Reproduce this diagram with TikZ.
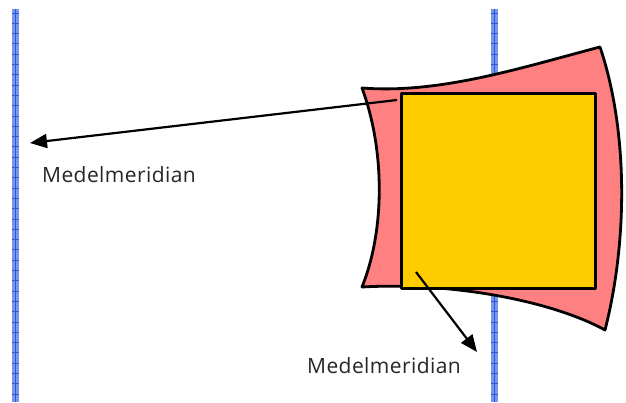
\documentclass[tikz,border=0pt]{standalone}
\usepackage{fontspec}
\setmainfont{Open Sans}
\usetikzlibrary{arrows.meta}
\definecolor{pinkfill}{HTML}{FF8080}
\definecolor{yellowfill}{HTML}{FFCC00}
\definecolor{meridfill}{HTML}{7896EC}
\definecolor{meridline}{HTML}{2A55E0}
\tikzset{
  outline/.style={draw=black,line width=2.8pt,line join=round},
  pointer/.style={draw=black,line width=2.2pt,-{Triangle[length=17pt,width=14pt]}},
  lbl/.style={font=\fontsize{21}{25}\selectfont\addfontfeature{LetterSpace=2},text=black!85,inner sep=0pt},
  meridian/.style={fill=meridfill,draw=none}
}
\begin{document}
\begin{tikzpicture}[x=1pt,y=-1pt]
\useasboundingbox (0,0) rectangle (626,402);
% meridians
\foreach \mx in {12,491}{
  \fill[meridian] (\mx,9) rectangle (\mx+7,402);
  \draw[meridline,line width=0.8pt] (\mx+3.5,9) -- (\mx+3.5,402);
  \foreach \ty in {13,23.3,...,402}{
    \draw[meridline,line width=1pt] (\mx,\ty) -- (\mx+7,\ty);
  }
}
% pink curved zone
\path[outline,fill=pinkfill] (362,88)
  .. controls (385,150) and (385,230) .. (362,287)
  .. controls (450,282) and (550,300) .. (605,330)
  .. controls (628,240) and (628,130) .. (600,47)
  .. controls (520,68) and (440,94) .. cycle;
% yellow square
\node[outline,fill=yellowfill,minimum width=194pt,minimum height=195pt,inner sep=0pt,anchor=north west] (sq) at (400,92) {};
% arrow endpoints
\coordinate (s1) at (397,100);
\coordinate (e1) at (30,143);
\coordinate (s2) at (416,272);
\coordinate (e2) at (477,352);
\draw[pointer] (s1) -- (e1);
\draw[pointer] (s2) -- (e2);
% labels
\node[lbl] (l1) at (119,175) {Medelmeridian};
\node[lbl] (l2) at (384,366) {Medelmeridian};
\end{tikzpicture}
\end{document}
